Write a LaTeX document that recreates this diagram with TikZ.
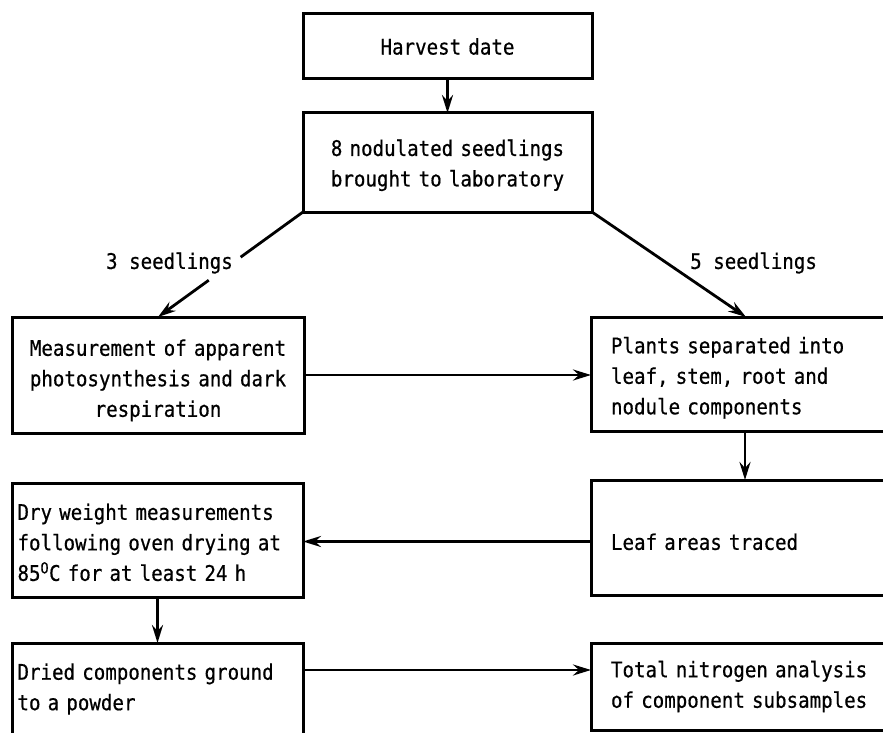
\documentclass[tikz,border=0pt]{standalone}
\usepackage{fontspec}
\newfontfamily\flowfont[FakeStretch=0.89,FakeBold=0.6]{DejaVu Sans Mono}
\usetikzlibrary{arrows.meta,calc}
\begin{document}
\begin{tikzpicture}[x=1pt,y=-1pt,
  every node/.style={font=\flowfont\fontsize{21.5}{30.5}\selectfont},
  box/.style={draw, line width=3pt, inner sep=0pt, outer sep=0pt, anchor=north west},
  lift/.style={execute at begin node={\rule{0pt}{#1}}},
  arr/.style={line width=2.8pt, -{Stealth[length=18pt,width=11pt,inset=6pt]}},
  ln/.style={line width=2.8pt},
  lbl/.style={inner sep=0pt}]
\useasboundingbox (0,0) rectangle (883,733);
\clip (0,0) rectangle (883,733);

\node[box, minimum width=289pt, minimum height=65pt, text width=260pt, align=center] (harvest) at (303,14) {Harvest date};
\node[box, minimum width=289pt, minimum height=99pt, text width=270pt, align=center, lift=22pt] (nod) at (303,113) {8 nodulated seedlings\\brought to laboratory};

\node[box, minimum width=292pt, minimum height=116pt, text width=276pt, align=center, lift=27pt] (meas) at (12,317) {Measurement of apparent\\photosynthesis and dark\\respiration};
\node[box, minimum width=310pt, minimum height=114pt, text width=270pt, align=left, lift=24pt] (plants) at (591,317) {Plants separated into\\leaf, stem, root and\\nodule components};

\node[box, minimum width=291pt, minimum height=114pt, text width=280pt, align=left, lift=21pt] (dry) at (12,483) {Dry weight measurements\\following oven drying at\\85\textsuperscript{O}C for at least 24 h};
\node[box, minimum width=310pt, minimum height=115pt, text width=270pt, align=left, lift=25pt] (leaf) at (591,480) {Leaf areas traced};

\node[box, minimum width=291pt, minimum height=92pt, text width=280pt, align=left] (dried) at (12,643) {Dried components ground\\to a powder};
\node[box, minimum width=310pt, minimum height=87pt, text width=270pt, align=left] (total) at (591,643) {Total nitrogen analysis\\of component subsamples};

\node[lbl, anchor=east] (three) at (233,263) {3 seedlings};
\node[lbl, anchor=west] (five) at (690,263) {5 seedlings};

\draw[arr] (harvest.south) -- (nod.north);
\draw[ln] (nod.south west) -- ($(nod.south west)!0.43!(meas.north)$);
\draw[arr] ($(nod.south west)!0.65!(meas.north)$) -- (meas.north);
\draw[arr] (nod.south east) -- ($(plants.north west)+(155,0)$);
\draw[arr] (meas.east) -- (meas.east -| plants.west);
\draw[arr] ($(plants.south west)+(154,0)$) -- ($(leaf.north west)+(154,0)$);
\draw[arr] ($(leaf.west)+(0,4)$) -- ($(leaf.west -| dry.east)+(0,4)$);
\draw[arr] (dry.south) -- (dry.south |- dried.north);
\draw[arr] ($(dried.north east)+(0,27)$) -- ($(total.north west)+(0,27)$);
\end{tikzpicture}
\end{document}
